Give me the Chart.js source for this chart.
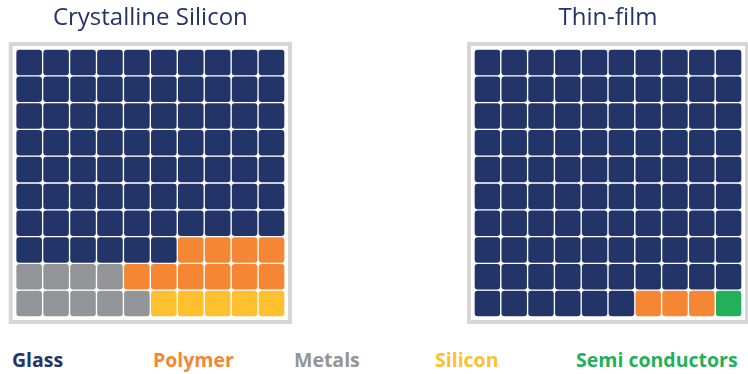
<!DOCTYPE html>
<html><head><meta charset="utf-8">
<script src="https://cdn.jsdelivr.net/npm/chart.js@4.4.1/dist/chart.umd.min.js"></script>
<style>
html,body{margin:0;padding:0;background:#fff;width:748px;height:374px;overflow:hidden;position:relative}
canvas{position:absolute;top:0}
#legend{position:absolute;left:12px;top:349px;display:flex;font-family:"Open Sans",sans-serif;font-weight:700;font-size:19.5px;line-height:22px;white-space:nowrap}
#legend span{width:141px;display:inline-block}
</style></head><body>
<canvas id="c1" width="300" height="332" style="left:0"></canvas>
<canvas id="c2" width="300" height="332" style="left:448px"></canvas>
<div id="legend"></div>
<script>
// ---- data ----
const categories = ['Glass', 'Polymer', 'Metals', 'Silicon', 'Semi conductors'];
const crystallineSilicon = [76, 10, 9, 5, 0];
const thinFilm = [96, 3, 0, 0, 1];
const panelTitles = ['Crystalline Silicon', 'Thin-film'];
const columnLabels = ['1', '2', '3', '4', '5', '6', '7', '8', '9', '10'];
const rowLabels = ['1', '2', '3', '4', '5', '6', '7', '8', '9', '10'];

// ---- style ----
const colors = ['#233468', '#f58634', '#939598', '#fec02f', '#22b05a'];
const fillSide = { 'Polymer': 'right', 'Metals': 'left', 'Silicon': 'right', 'Semi conductors': 'right' };

function buildDatasets(values) {
  const nR = rowLabels.length, nC = columnLabels.length;
  const owner = Array.from({ length: nR }, () => Array(nC).fill(-1));
  // fill smaller categories from the bottom, each from its own side; Glass takes the rest
  for (let k = categories.length - 1; k >= 1; k--) {
    let n = values[k];
    const side = fillSide[categories[k]];
    for (let r = 0; r < nR && n > 0; r++) {
      for (let i = 0; i < nC && n > 0; i++) {
        const c = side === 'right' ? nC - 1 - i : i;
        if (owner[r][c] === -1) { owner[r][c] = k; n--; }
      }
    }
  }
  for (let r = 0; r < nR; r++) for (let c = 0; c < nC; c++) if (owner[r][c] === -1) owner[r][c] = 0;
  return categories.map((name, k) => {
    const data = [];
    for (let r = 0; r < nR; r++) for (let c = 0; c < nC; c++)
      if (owner[r][c] === k) data.push({ x: columnLabels[c], y: [r, r + 1] });
    return { label: name, data, backgroundColor: colors[k] };
  });
}

const framePlugin = {
  id: 'frame',
  beforeDraw(chart) {
    const a = chart.chartArea, ctx = chart.ctx;
    ctx.save();
    ctx.strokeStyle = '#d6d6d6';
    ctx.lineWidth = 4;
    ctx.strokeRect(a.left - 5, a.top - 5, a.right - a.left + 10, a.bottom - a.top + 10);
    ctx.restore();
  }
};

function makeChart(id, values, title, pad) {
  return new Chart(document.getElementById(id), {
    type: 'bar',
    data: { labels: columnLabels, datasets: buildDatasets(values) },
    options: {
      responsive: false, animation: false,
      layout: { padding: pad },
      plugins: {
        legend: { display: false }, tooltip: { enabled: false },
        title: { display: true, text: title, color: '#253466',
          font: { family: 'Open Sans', size: 24, weight: '500', lineHeight: 1.2 }, padding: { top: 4, bottom: 16.2 } }
      },
      scales: {
        x: { display: false, offset: true },
        y: { display: false, min: 0, max: rowLabels.length }
      },
      datasets: { bar: { grouped: false, barPercentage: 1, categoryPercentage: 1,
        borderWidth: 1, borderColor: '#ffffff', borderRadius: 4, borderSkipped: false } }
    },
    plugins: [framePlugin]
  });
}

makeChart('c1', crystallineSilicon, panelTitles[0], { left: 15.7, right: 15, top: 0, bottom: 15 });
makeChart('c2', thinFilm, panelTitles[1], { left: 26, right: 6, top: 0, bottom: 15 });

const lg = document.getElementById('legend');
categories.forEach((name, k) => {
  const s = document.createElement('span');
  s.textContent = name; s.style.color = colors[k];
  lg.appendChild(s);
});
</script>
</body></html>
